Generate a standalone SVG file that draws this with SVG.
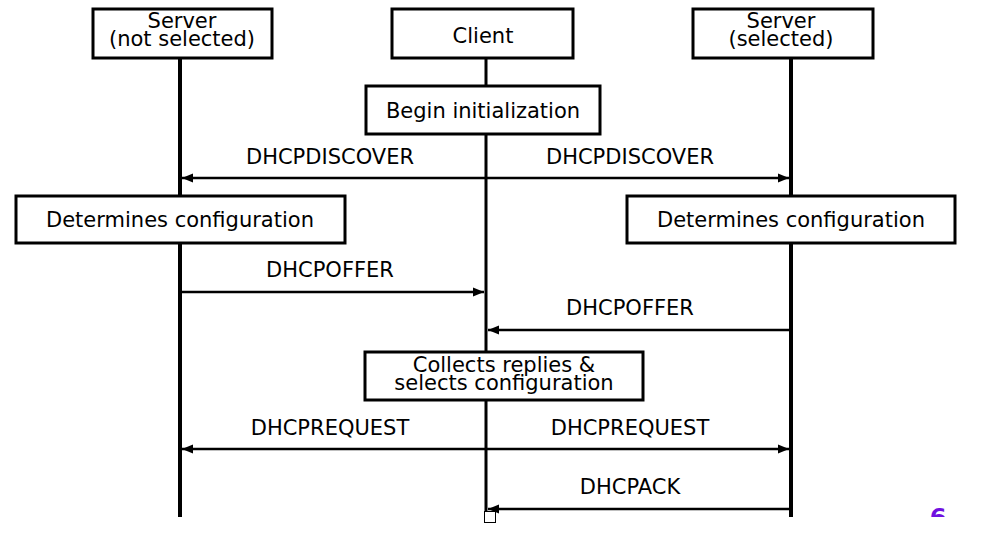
<svg xmlns="http://www.w3.org/2000/svg" width="992" height="536" viewBox="0 0 992 536">
<defs>
<style>
.box{fill:#fff;stroke:#000;stroke-width:3}
.life{stroke:#000;stroke-width:4}
.msg{stroke:#000;stroke-width:2.5;fill:none}
text{font-family:"DejaVu Sans","Noto Sans",sans-serif;font-size:21px;fill:#000;text-anchor:middle}
</style>
<marker id="ah" viewBox="0 0 10 10" refX="10" refY="5" markerWidth="4.5" markerHeight="4.5" orient="auto-start-reverse" markerUnits="strokeWidth">
<path d="M0,1 L10,5 L0,9 z" fill="#000"/>
</marker>
<clipPath id="cut"><rect x="0" y="0" width="992" height="517"/></clipPath>
</defs>
<rect width="992" height="536" fill="#fff"/>
<g id="lifelines">
<line class="life" x1="180" y1="58" x2="180" y2="517"/>
<line class="life" x1="486" y1="58" x2="486" y2="517" style="stroke-width:3"/>
<line class="life" x1="791" y1="58" x2="791" y2="517"/>
</g>
<g id="connectors">
<line class="msg" x1="182" y1="178" x2="789" y2="178" marker-start="url(#ah)" marker-end="url(#ah)"/>
<line class="msg" x1="182" y1="292" x2="484" y2="292" marker-end="url(#ah)"/>
<line class="msg" x1="789" y1="330" x2="488" y2="330" marker-end="url(#ah)"/>
<line class="msg" x1="182" y1="449" x2="789" y2="449" marker-start="url(#ah)" marker-end="url(#ah)"/>
<line class="msg" x1="789" y1="509" x2="488" y2="509" marker-end="url(#ah)"/>
<text x="330" y="164">DHCPDISCOVER</text>
<text x="630" y="164">DHCPDISCOVER</text>
<text x="330" y="277">DHCPOFFER</text>
<text x="630" y="315">DHCPOFFER</text>
<text x="330" y="435">DHCPREQUEST</text>
<text x="630" y="435">DHCPREQUEST</text>
<text x="630" y="494">DHCPACK</text>
</g>
<g id="server-not-selected">
<rect class="box" x="93" y="9" width="179" height="49"/>
<text x="182" y="28">Server<tspan x="182" dy="18">(not selected)</tspan></text>
</g>
<g id="client">
<rect class="box" x="392" y="9" width="181" height="49"/>
<text x="483" y="43">Client</text>
</g>
<g id="server-selected">
<rect class="box" x="693" y="9" width="180" height="49"/>
<text x="781" y="28">Server<tspan x="781" dy="18">(selected)</tspan></text>
</g>
<g id="begin-init">
<rect class="box" x="366" y="86" width="234" height="48"/>
<text x="483" y="118">Begin initialization</text>
</g>
<g id="determines-left">
<rect class="box" x="16" y="196" width="329" height="47"/>
<text x="180" y="227">Determines configuration</text>
</g>
<g id="determines-right">
<rect class="box" x="627" y="196" width="328" height="47"/>
<text x="791" y="227">Determines configuration</text>
</g>
<g id="collects">
<rect class="box" x="365" y="352" width="278" height="48"/>
<text x="504" y="372">Collects replies &amp;<tspan x="504" dy="18">selects configuration</tspan></text>
</g>
<rect x="484.5" y="511.5" width="11" height="11" fill="#fff" stroke="#000" stroke-width="1"/>
<text x="938" y="526" clip-path="url(#cut)" style="fill:#7010e0;font-weight:bold;font-size:24px">6</text>
</svg>
